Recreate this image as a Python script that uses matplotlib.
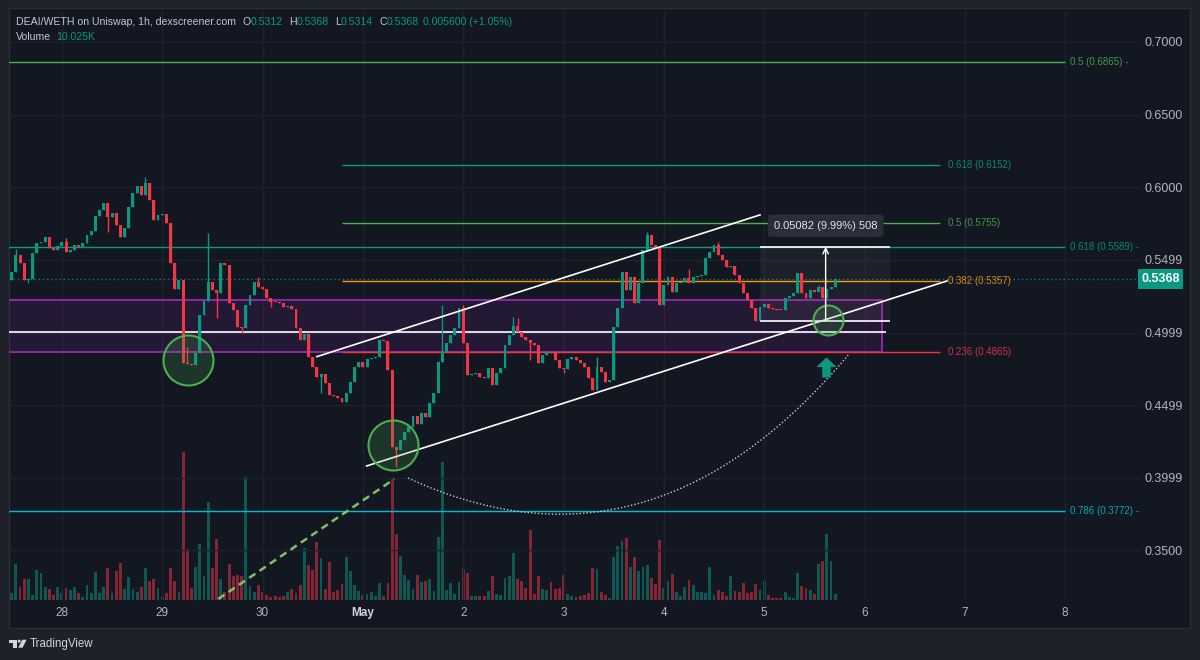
import numpy as np
import matplotlib
matplotlib.use("Agg")
import matplotlib.pyplot as plt
import matplotlib.transforms as mtransforms
from matplotlib.patches import Rectangle, Polygon, Circle
from matplotlib.path import Path
from matplotlib.colors import to_rgba

plt.rcParams['font.family'] = ['Liberation Sans', 'DejaVu Sans']

# ------------------------------------------------------------
# data: DEAI/WETH 1h candles, hour 0 = Apr 27 12:00
# ------------------------------------------------------------
first_open = 0.5361
closes = [
    0.5418, 0.5533, 0.5476, 0.5361, 0.5370, 0.5544, 0.5613, 0.5620, 0.5654, 0.5579,
    0.5567, 0.5595, 0.5625, 0.5556, 0.5567, 0.5602, 0.5590, 0.5613, 0.5671, 0.5700,
    0.5801, 0.5843, 0.5893, 0.5797, 0.5820, 0.5740, 0.5659, 0.5717, 0.5866, 0.5958,
    0.6008, 0.5946, 0.6027, 0.5912, 0.5774, 0.5808, 0.5812, 0.5751, 0.5476, 0.5297,
    0.5361, 0.4787, 0.4780, 0.4775, 0.4856, 0.5120, 0.5218, 0.5349, 0.5292, 0.5269,
    0.5476, 0.5464, 0.5200, 0.5154, 0.5039, 0.5030, 0.5189, 0.5257, 0.5349, 0.5315,
    0.5297, 0.5235, 0.5212, 0.5208, 0.5200, 0.5177, 0.5182, 0.5159, 0.5028, 0.4948,
    0.4990, 0.4833, 0.4764, 0.4695, 0.4713, 0.4649, 0.4569, 0.4562, 0.4546, 0.4523,
    0.4580, 0.4661, 0.4764, 0.4798, 0.4764, 0.4815, 0.4821, 0.4833, 0.4948, 0.4943,
    0.4741, 0.4213, 0.4190, 0.4259, 0.4316, 0.4351, 0.4424, 0.4369, 0.4443, 0.4420,
    0.4511, 0.4580, 0.4798, 0.4867, 0.4925, 0.4982, 0.5028, 0.5166, 0.4925, 0.4707,
    0.4715, 0.4720, 0.4695, 0.4684, 0.4753, 0.4638, 0.4718, 0.4753, 0.4913, 0.4982,
    0.5044, 0.5005, 0.4971, 0.4948, 0.4929, 0.4913, 0.4787, 0.4844, 0.4867, 0.4856,
    0.4810, 0.4753, 0.4746, 0.4815, 0.4833, 0.4810, 0.4792, 0.4764, 0.4684, 0.4603,
    0.4764, 0.4730, 0.4661, 0.4675, 0.5040, 0.5166, 0.5418, 0.5292, 0.5384, 0.5200,
    0.5338, 0.5568, 0.5671, 0.5602, 0.5579, 0.5189, 0.5327, 0.5384, 0.5281, 0.5338,
    0.5345, 0.5372, 0.5338, 0.5384, 0.5390, 0.5395, 0.5510, 0.5556, 0.5602, 0.5533,
    0.5499, 0.5453, 0.5460, 0.5395, 0.5338, 0.5269, 0.5223, 0.5166, 0.5081, 0.5177,
    0.5195, 0.5166, 0.5160, 0.5157, 0.5154, 0.5235, 0.5251, 0.5269, 0.5407, 0.5269,
    0.5235, 0.5292, 0.5281, 0.5312, 0.5235, 0.5300, 0.5312, 0.5368,
]
wick_high = {1: 0.5572, 13: 0.5648, 32: 0.6072, 42: 0.4901, 47: 0.5682, 59: 0.5384,
             103: 0.5189, 108: 0.5189, 120: 0.5109, 121: 0.5097, 140: 0.4833,
             152: 0.5694, 162: 0.5435, 169: 0.5625, 193: 0.5327}
wick_low = {4: 0.5342, 23: 0.5694, 49: 0.5097, 55: 0.4993, 62: 0.5177, 74: 0.4580,
            92: 0.4075, 124: 0.4810, 132: 0.4718}
volume_k = [
    12, 60, 22, 35, 35, 8, 50, 45, 22, 18,
    8, 22, 12, 20, 17, 22, 12, 5, 25, 12,
    47, 12, 22, 53, 12, 48, 62, 18, 38, 18,
    13, 22, 53, 32, 35, 20, 5, 12, 53, 32,
    13, 247, 85, 20, 55, 93, 40, 164, 53, 102,
    35, 13, 60, 40, 42, 40, 205, 23, 13, 25,
    13, 8, 5, 7, 5, 7, 13, 18, 12, 25,
    87, 58, 50, 97, 70, 18, 63, 13, 17, 27,
    72, 48, 25, 15, 8, 10, 13, 7, 28, 7,
    28, 204, 110, 73, 42, 33, 18, 42, 30, 32,
    35, 15, 105, 230, 17, 28, 10, 30, 52, 45,
    7, 7, 7, 7, 15, 40, 10, 8, 37, 40,
    78, 35, 32, 20, 117, 10, 40, 18, 17, 30,
    18, 20, 42, 10, 7, 5, 7, 8, 12, 53,
    52, 13, 8, 3, 72, 90, 98, 103, 55, 72,
    48, 55, 58, 37, 27, 100, 20, 32, 43, 13,
    7, 22, 33, 25, 13, 13, 12, 55, 8, 17,
    13, 7, 40, 15, 13, 28, 12, 13, 27, 17,
    32, 8, 3, 3, 3, 13, 5, 3, 45, 23,
    20, 17, 10, 60, 65, 110, 65, 10,
]
volume_axis_top = 988.6   # K at the top of the pane

day_hours = [12, 36, 60, 84, 108, 132, 156, 180, 204, 228, 252]
day_labels = ["28", "29", "30", "May", "2", "3", "4", "5", "6", "7", "8"]
price_ticks = [0.3500, 0.3999, 0.4499, 0.4999, 0.5499, 0.6000, 0.6500, 0.7000]

fib_wide_names = ["0.5", "0.618", "0.786"]
fib_wide_levels = [0.6865, 0.5589, 0.3772]
fib_wide_colors = ["#4caf50", "#089981", "#00bcd4"]
fib_box_names = ["0.618", "0.5", "0.382", "0.236"]
fib_box_levels = [0.6152, 0.5755, 0.5357, 0.4865]
fib_box_colors = ["#089981", "#4caf50", "#ff9800", "#f23645"]

zone_lo, zone_hi, zone_end = 0.4862, 0.5223, 208.2
support_level, support_end = 0.5006, 209.2
channel_upper = [(73.0, 0.4833), (179.0, 0.5809)]
channel_lower = [(84.9, 0.4080), (223.7, 0.5354)]
trend_dash = [(49.4, 0.3164), (91.5, 0.3990)]
arc_ctrl = [(94.8, 0.3997), (152.7, 0.3226), (200.1, 0.4844)]
circle_x = [42.1, 91.1, 195.2]
circle_y = [0.4810, 0.4225, 0.5085]
circle_px = [50, 50, 30]
measure_x0, measure_x1 = 179.0, 210.1
measure_lo, measure_hi = 0.5081, 0.5590
measure_mid = 194.7
measure_text = "0.05082 (9.99%) 508"
arrow_xy = (194.9, 0.4762)
last_price = 0.5368

# ------------------------------------------------------------
BG = "#131722"
OUT = "#1e212a"
BORDER = "#2a2e39"
GRID = "#1e222d"
TXT = "#b2b5be"
UP = "#089981"
DOWN = "#f23645"

W, H = 1200, 660
fig = plt.figure(figsize=(12, 6.6), dpi=100, facecolor=OUT)
px = mtransforms.Affine2D().scale(1 / W, -1 / H).translate(0, 1) + fig.transFigure

fig.patches.append(Rectangle((9, 8), 1181, 620, transform=px, fc=BG, ec=BORDER,
                             lw=1, zorder=-10))

ax = fig.add_axes([9 / W, 1 - 600 / H, 1131 / W, 592 / H])
vax = ax.twinx()
ax.set_zorder(3)
vax.set_zorder(2)
ax.patch.set_visible(False)
vax.patch.set_visible(False)

xlim = (-0.65, 269.9)
ax.set_xlim(*xlim)
ax.set_ylim(0.3157, 0.7234)

hours = np.arange(len(closes))
opens = np.array([first_open] + closes[:-1])
closes_a = np.array(closes)
up = closes_a >= opens
cols = np.where(up, UP, DOWN)

# volume
vcols = [to_rgba(c, 0.5) for c in cols]
vax.bar(hours, volume_k, 0.68, color=vcols, linewidth=0)
vax.set_ylim(0, volume_axis_top)
vax.set_yticks([])
for s in vax.spines.values():
    s.set_visible(False)

# grid
for h in day_hours:
    ax.axvline(h, color=GRID, lw=1, zorder=0)
for p in price_ticks:
    ax.axhline(p, color=GRID, lw=1, zorder=0)

# purple zone + white support
ax.add_patch(Rectangle((xlim[0] - 5, zone_lo), zone_end - xlim[0] + 5, zone_hi - zone_lo,
                       fc=to_rgba("#9c27b0", 0.13), ec="#9c27b0", lw=1.3, zorder=1))
ax.hlines(support_level, xlim[0] - 5, support_end, color="white", lw=1.2, zorder=2)

# fib levels
ax.hlines(fib_wide_levels, xlim[0] - 5, 252, colors=fib_wide_colors, lw=1, zorder=2)
for n, v, c in zip(fib_wide_names, fib_wide_levels, fib_wide_colors):
    ax.text(253.2, v, f"{n} ({v:.4f}) -", color=c, fontsize=7, va="center", ha="left",
            alpha=0.85, zorder=6)
ax.hlines(fib_box_levels, 79.0, 222.1, colors=fib_box_colors, lw=1, zorder=2)
for n, v, c in zip(fib_box_names, fib_box_levels, fib_box_colors):
    ax.text(223.9, v, f"{n} ({v:.4f})", color=c, fontsize=7, va="center", ha="left",
            alpha=0.85, zorder=6)

# last price line
ax.axhline(last_price, color=UP, lw=1, ls=(0, (1, 2)), alpha=0.8, zorder=2)

# candles
highs = np.array([wick_high.get(i, max(o, c)) for i, (o, c) in enumerate(zip(opens, closes_a))])
lows = np.array([wick_low.get(i, min(o, c)) for i, (o, c) in enumerate(zip(opens, closes_a))])
ax.vlines(hours, lows, highs, colors=cols, lw=1, zorder=4)
body_lo = np.minimum(opens, closes_a)
body_h = np.maximum(np.abs(closes_a - opens), 0.0007)
ax.bar(hours, body_h, 0.7, bottom=body_lo, color=cols, linewidth=0, zorder=5)

# channel
for seg in (channel_upper, channel_lower):
    xs, ys = zip(*seg)
    ax.plot(xs, ys, color="white", lw=1.2, zorder=6)

# dashed trend & dotted arc
xs, ys = zip(*trend_dash)
ax.plot(xs, ys, color="#7cc36a", lw=1.8, ls=(0, (3, 2)), zorder=6)
t = np.linspace(0, 1, 100)[:, None]
p0, p1, p2 = (np.array(p) for p in arc_ctrl)
arc = (1 - t) ** 2 * p0 + 2 * t * (1 - t) * p1 + t ** 2 * p2
ax.plot(arc[:, 0], arc[:, 1], color="#c8cad0", lw=1, ls=(0, (1, 1.5)), zorder=6)

# circles
for cx, cy, d in zip(circle_x, circle_y, circle_px):
    ax.scatter([cx], [cy], s=(d * 0.72) ** 2, fc=to_rgba("#4caf50", 0.2),
               ec="#4caf50", lw=1.5, zorder=7)

# measure tool
ax.add_patch(Rectangle((measure_x0, measure_lo), measure_x1 - measure_x0,
                       measure_hi - measure_lo, fc=to_rgba("#b2b5be", 0.06), ec="none",
                       zorder=3))
ax.hlines([measure_lo, measure_hi], measure_x0, measure_x1, color="white", lw=1.2, zorder=6)
ax.annotate("", xy=(measure_mid, measure_hi), xytext=(measure_mid, measure_lo),
            arrowprops=dict(arrowstyle="->", color="white", lw=1, shrinkA=0, shrinkB=0,
                            mutation_scale=10), zorder=7)
ax.annotate(measure_text, xy=(measure_mid, measure_hi), xytext=(0, 21),
            textcoords="offset pixels", ha="center", va="center", color="#e0e3eb",
            fontsize=8, zorder=8,
            bbox=dict(boxstyle="round,pad=0.55,rounding_size=0.25", fc="#2a2e39", ec="none"))

# green up arrow
arrow_path = Path([(0, 1), (1, 0.05), (0.42, 0.05), (0.42, -1), (-0.42, -1),
                   (-0.42, 0.05), (-1, 0.05), (0, 1)])
ax.scatter([arrow_xy[0]], [arrow_xy[1]], marker=arrow_path, s=14.5 ** 2, color=UP,
           linewidths=0, zorder=7)

# axes styling
for s in ax.spines.values():
    s.set_visible(False)
ax.yaxis.tick_right()
ax.set_yticks(price_ticks, [f"{p:.4f}" for p in price_ticks])
ax.tick_params(axis="y", length=0, pad=3, labelsize=9, labelcolor=TXT)
ax.set_xticks(day_hours, day_labels)
ax.tick_params(axis="x", length=0, pad=5, labelsize=8.5, labelcolor=TXT)
for lbl in ax.get_xticklabels():
    if lbl.get_text() == "May":
        lbl.set_fontweight("bold")
        lbl.set_color("#d1d4dc")

# last price tag
ax.annotate(f"{last_price:.4f}", xy=(1.0, last_price), xycoords=("axes fraction", "data"),
            xytext=(20.5, 0), textcoords="offset pixels", ha="center", va="center",
            color="white", fontsize=9, fontweight="bold", zorder=10, annotation_clip=False,
            bbox=dict(boxstyle="square,pad=0.3", fc=UP, ec="none"))

# header legend
HDR = "#c3c6ce"
def chain(prev, s, color, gap):
    return ax.annotate(s, xy=(1, 0.5), xycoords=prev, xytext=(gap, 0),
                       textcoords="offset points", ha="left", va="center", color=color,
                       fontsize=7.6, annotation_clip=False, zorder=10)

t0 = fig.text(16 / W, 1 - 22 / H, "DEAI/WETH on Uniswap, 1h, dexscreener.com",
              color=HDR, fontsize=7.6, va="center", ha="left")
prev = t0
for lab, val in [("O", "0.5312"), ("H", "0.5368"), ("L", "0.5314"), ("C", "0.5368")]:
    prev = chain(prev, lab, HDR, 4.5)
    prev = chain(prev, val, UP, 0)
chain(prev, "0.005600 (+1.05%)", UP, 3)
t1 = fig.text(16 / W, 1 - 37 / H, "Volume", color=HDR, fontsize=7.6, va="center", ha="left")
chain(t1, "10.025K", UP, 4)

# TradingView logo
fig.patches.append(Polygon([(9, 639.7), (17.3, 639.7), (17.3, 642.5), (16.7, 642.5),
                            (16.7, 647.7), (12.7, 647.7), (12.7, 642.5), (9, 642.5)],
                           closed=True, transform=px, fc="#d1d4dc", ec="none"))
fig.patches.append(Circle((19.2, 641.2), 1.5, transform=px, fc="#d1d4dc", ec="none"))
fig.patches.append(Polygon([(22.3, 639.7), (26.6, 639.7), (22.6, 647.7), (18.3, 647.7)],
                           closed=True, transform=px, fc="#d1d4dc", ec="none"))
fig.text(30 / W, 1 - 643.5 / H, "TradingView", color="#d1d4dc", fontsize=8.3,
         va="center", ha="left")

fig.savefig("out.png", dpi=100, facecolor=OUT)
